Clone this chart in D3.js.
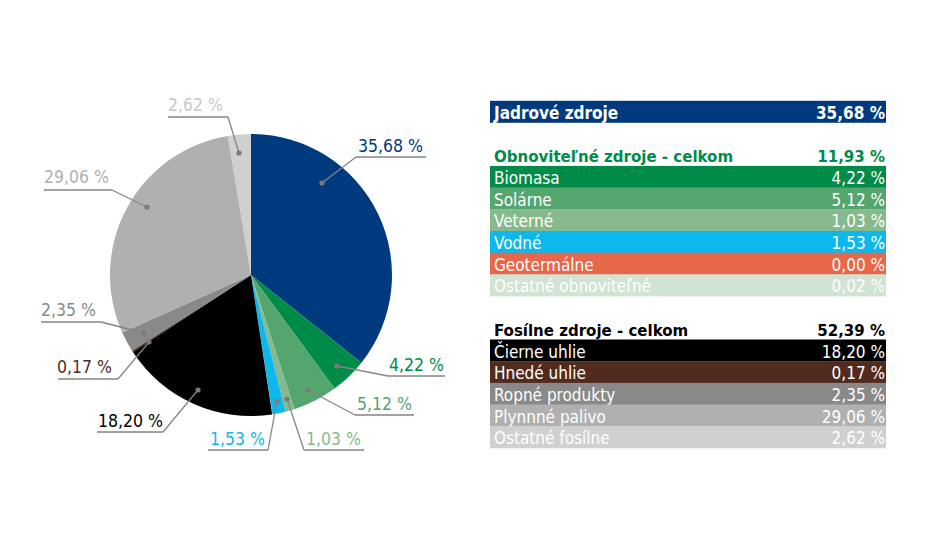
<!DOCTYPE html>
<html>
<head>
<meta charset="utf-8">
<script src="https://cdn.jsdelivr.net/npm/d3@7"></script>
<style>
html,body{margin:0;padding:0;background:#fff;}
svg{display:block;font-family:"DejaVu Sans Condensed","DejaVu Sans",sans-serif;}
</style>
</head>
<body>
<svg id="chart" width="930" height="550"></svg>
<script>
// ---- data ----
const categories = ["Jadrové zdroje","Biomasa","Solárne","Veterné","Vodné","Geotermálne","Ostatné obnoviteľné","Čierne uhlie","Hnedé uhlie","Ropné produkty","Plynnné palivo","Ostatné fosílne"];
const values = [35.68,4.22,5.12,1.03,1.53,0.00,0.02,18.20,0.17,2.35,29.06,2.62];
const colors = ["#003A7E","#008C48","#55A56F","#86BA8E","#0DB9EC","#E6674A","#D1E3D2","#000000","#522B1F","#898989","#B0B0B0","#D0D0D0"];
const labelColors = ["#003A7E","#008C48","#55A56F","#86BA8E","#0DB9EC","#E6674A","#D1E3D2","#000000","#522B1F","#898989","#B0B0B0","#C8C8C8"];
const groupTitles = ["Obnoviteľné zdroje - celkom","Fosílne zdroje - celkom"];
const groupTotals = [11.93,52.39];
const groupColors = ["#008C48","#000000"];

// label layout: [textX, baseline, lineX1, lineX2, lineY, dotX, dotY, joinAtRight]
const labelLayout = {
  0:[358,152,356,426,157,322,183,false],
  1:[389,371,388,445,376,337,366,false],
  2:[357,410,355,414,415,308,390,false],
  3:[306,445,304,364,450,287,399,false],
  4:[210,445,208,268,450,277,401,true],
  7:[98,427,97,163,432,198,390,true],
  8:[57,373,58,118,379,149,342,true],
  9:[41,316,41,101,322,144,333,true],
  10:[44,183,44,112,190,147,207,true],
  11:[168,111,168,228,117,239,153,true]
};

const fmt = v => d3.format(".2f")(v).replace(".", ",") + " %";

const svg = d3.select("#chart");

// ---- pie ----
const cx = 251, cy = 275, R = 141;
const pie = d3.pie().sort(null).value(d => d.v);
const arc = d3.arc().innerRadius(0).outerRadius(R);
const data = categories.map((c,i)=>({c, v: values[i], i}));
const g = svg.append("g").attr("transform",`translate(${cx},${cy})`);
g.selectAll("path").data(pie(data)).join("path")
  .attr("d", arc)
  .attr("fill", d => colors[d.data.i]);

// ---- labels ----
const lg = svg.append("g");
Object.keys(labelLayout).forEach(k => {
  const i = +k, L = labelLayout[k];
  const [tx, ty, x1, x2, ly, dx, dy, right] = L;
  lg.append("line").attr("x1",x1).attr("x2",x2).attr("y1",ly).attr("y2",ly)
    .attr("stroke","#858585").attr("stroke-width",1.3);
  lg.append("line").attr("x1", right ? x2 : x1).attr("y1", ly).attr("x2", dx).attr("y2", dy)
    .attr("stroke","#858585").attr("stroke-width",1.3);
  lg.append("circle").attr("cx",dx).attr("cy",dy).attr("r",2.6).attr("fill","#7a7a7a");
  lg.append("text").attr("x",tx).attr("y",ty).attr("font-size",17.5)
    .attr("fill", labelColors[i]).text(fmt(values[i]));
});

// ---- table ----
const tX = 490, tW = 396, rowH = 21.7, top0 = 100.8;
const rowY = d3.scaleLinear().domain([0,1]).range([top0, top0 + rowH]);
const rows = [
  {t:"bar", i:0, r:0, bold:true},
  {t:"head", g:0, r:2},
  {t:"bar", i:1, r:3},{t:"bar", i:2, r:4},{t:"bar", i:3, r:5},{t:"bar", i:4, r:6},{t:"bar", i:5, r:7},{t:"bar", i:6, r:8},
  {t:"head", g:1, r:10},
  {t:"bar", i:7, r:11},{t:"bar", i:8, r:12},{t:"bar", i:9, r:13},{t:"bar", i:10, r:14},{t:"bar", i:11, r:15}
];
const tg = svg.append("g");
rows.forEach(row => {
  const y = rowY(row.r);
  if (row.t === "bar") {
    tg.append("rect").attr("x",tX).attr("y",y).attr("width",tW).attr("height",rowH+0.3)
      .attr("fill", colors[row.i]);
    const fw = row.bold ? "bold" : "normal";
    const fs = row.bold ? 17 : 17;
    tg.append("text").attr("x",tX+4).attr("y",y+18).attr("font-size",fs).attr("font-weight",fw)
      .attr("fill","#fff").text(categories[row.i]);
    tg.append("text").attr("x",tX+tW-1).attr("y",y+18).attr("font-size",fs).attr("font-weight",fw)
      .attr("text-anchor","end").attr("fill","#fff").text(fmt(values[row.i]));
  } else {
    tg.append("text").attr("x",tX+4).attr("y",y+18).attr("font-size",16.7).attr("font-weight","bold")
      .attr("fill",groupColors[row.g]).text(groupTitles[row.g]);
    tg.append("text").attr("x",tX+tW-1).attr("y",y+18).attr("font-size",16.7).attr("font-weight","bold")
      .attr("text-anchor","end").attr("fill",groupColors[row.g]).text(fmt(groupTotals[row.g]));
  }
});
</script>
</body>
</html>
